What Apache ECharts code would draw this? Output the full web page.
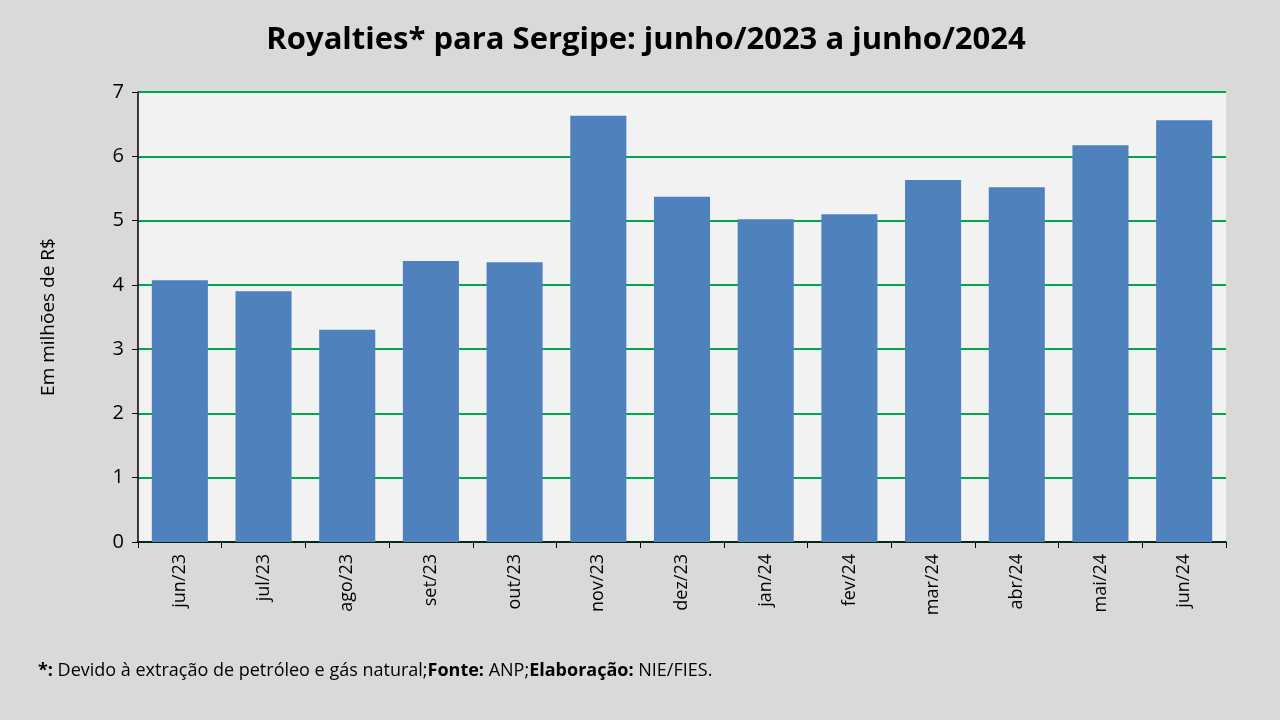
<!DOCTYPE html>
<html><head><meta charset="utf-8">
<script src="https://cdn.jsdelivr.net/npm/echarts@6/dist/echarts.min.js"></script>
<style>html,body{margin:0;padding:0;background:#d9d9d9;}#c{width:1280px;height:720px;}</style>
</head><body><div id="c"></div>
<script>
var months = ['jun/23','jul/23','ago/23','set/23','out/23','nov/23','dez/23','jan/24','fev/24','mar/24','abr/24','mai/24','jun/24'];
var royalties = [4.07, 3.90, 3.30, 4.37, 4.35, 6.63, 5.37, 5.02, 5.10, 5.63, 5.52, 6.17, 6.56];

var chart = echarts.init(document.getElementById('c'));
var font = 'Open Sans';
chart.setOption({
    backgroundColor: '#d9d9d9',
    textStyle: {fontFamily: font},
    title: {
        text: 'Royalties* para Sergipe: junho/2023 a junho/2024',
        left: 641, top: 20, textAlign: 'center',
        textStyle: {fontSize: 31, fontWeight: 'bold', color: '#000', fontFamily: font}
    },
    graphic: [{
        type: 'text', left: 38, top: 662,
        style: {
            text: '{b|*:} Devido à extração de petróleo e gás natural;{b|Fonte:} ANP;{b|Elaboração:} NIE/FIES.',
            rich: {b: {fontWeight: 'bold', fontSize: 18, fontFamily: font, fill: '#000'}},
            font: '18px "Open Sans"', fill: '#000'
        }
    }],
    grid: {left: 138, right: 54, top: 92, bottom: 178, show: true, backgroundColor: '#f2f2f2', borderWidth: 0},
    xAxis: {
        type: 'category', data: months,
        axisLine: {lineStyle: {color: '#000', width: 1.5}},
        axisTick: {show: true, length: 6, lineStyle: {color: '#000'}},
        axisLabel: {rotate: 90, fontSize: 18, color: '#000', margin: 12}
    },
    yAxis: {
        type: 'value', min: 0, max: 7, interval: 1,
        name: 'Em milhões de R$', nameLocation: 'middle', nameGap: 80,
        nameTextStyle: {fontSize: 19, color: '#000'},
        axisLine: {show: true, lineStyle: {color: '#000', width: 1.5}},
        axisTick: {show: true, length: 6, inside: false, lineStyle: {color: '#000'}},
        axisLabel: {fontSize: 20, color: '#000', margin: 14},
        splitLine: {lineStyle: {color: '#00a84f', width: 1.8}}
    },
    series: [{
        type: 'bar', data: royalties, barWidth: '67%',
        itemStyle: {color: '#4f81bd'}, animation: false
    }]
});
</script></body></html>
